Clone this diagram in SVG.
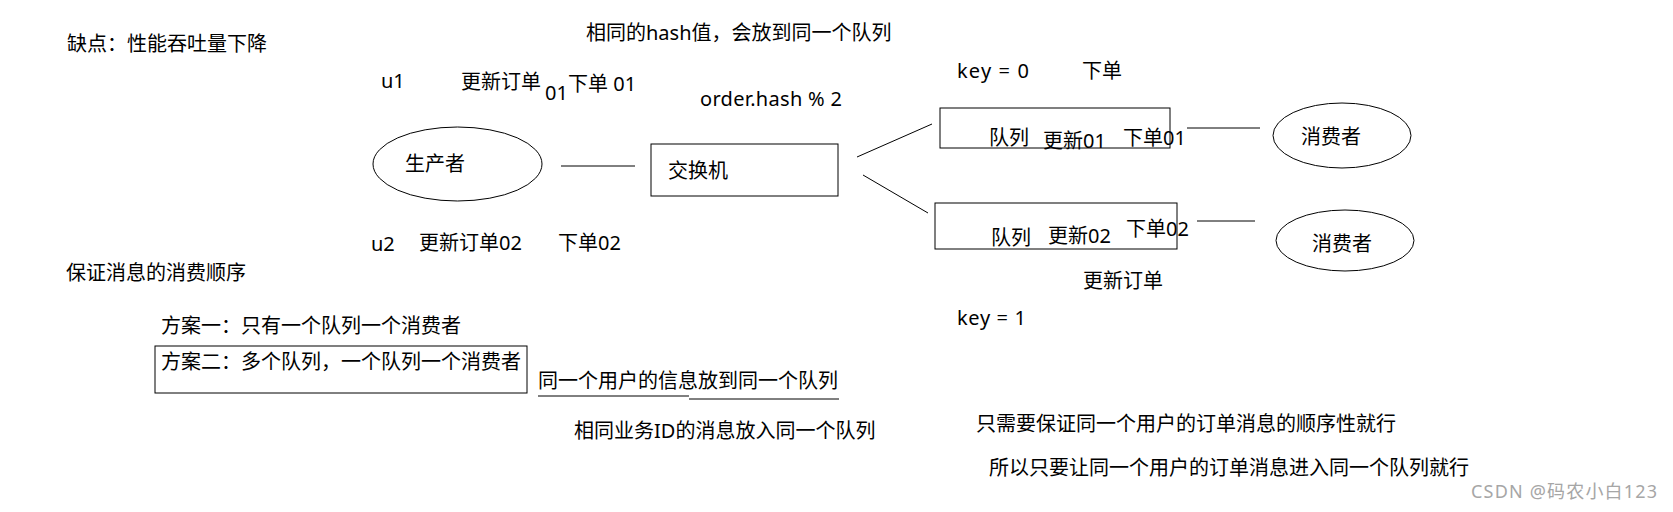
<svg xmlns="http://www.w3.org/2000/svg" width="1673" height="512" viewBox="0 0 1673 512">
<style>
text{font-family:"Noto Sans","Noto Sans CJK SC",sans-serif;font-size:20px;fill:#000}
.shape{fill:none;stroke:#000;stroke-width:1}
.conn{fill:none;stroke:#000;stroke-width:1}
.wm{fill:#a6a6a6;font-size:18px}
</style>
<rect x="0" y="0" width="1673" height="512" fill="#fff"/>
<g id="notes">
<text x="67" y="51">缺点：性能吞吐量下降</text>
<text x="586" y="40">相同的hash值，会放到同一个队列</text>
<text x="700" y="106" textLength="142" lengthAdjust="spacing">order.hash % 2</text>
<text x="66" y="280">保证消息的消费顺序</text>
<text x="161" y="333">方案一：只有一个队列一个消费者</text>
<text x="574" y="438">相同业务ID的消息放入同一个队列</text>
<text x="976" y="431">只需要保证同一个用户的订单消息的顺序性就行</text>
<text x="989" y="475">所以只要让同一个用户的订单消息进入同一个队列就行</text>
<text class="wm" x="1471" y="498" textLength="186" lengthAdjust="spacing">CSDN @码农小白123</text>
</g>
<g id="producer-labels">
<text x="381" y="88">u1</text>
<text x="461" y="89">更新订单</text>
<text x="545" y="100">01</text>
<text x="568" y="91">下单 01</text>
<text x="371" y="251">u2</text>
<text x="419" y="250">更新订单02</text>
<text x="558" y="250">下单02</text>
</g>
<g id="producer">
<ellipse class="shape" cx="457.5" cy="164" rx="84.5" ry="37"/>
<text x="405" y="171">生产者</text>
</g>
<g id="exchange">
<rect class="shape" x="651" y="144" width="187" height="52"/>
<text x="668" y="178">交换机</text>
</g>
<g id="queue1">
<text x="957" y="78" textLength="72" lengthAdjust="spacing">key = 0</text>
<text x="1082" y="78">下单</text>
<rect class="shape" x="940" y="108" width="230" height="40"/>
<text x="989" y="145">队列</text>
<text x="1043" y="148">更新01</text>
<text x="1123" y="145">下单01</text>
</g>
<g id="queue2">
<rect class="shape" x="935" y="203" width="242" height="46"/>
<text x="991" y="245">队列</text>
<text x="1048" y="243">更新02</text>
<text x="1126" y="236">下单02</text>
<text x="1083" y="288">更新订单</text>
<text x="957" y="325" textLength="69" lengthAdjust="spacing">key = 1</text>
</g>
<g id="consumer1">
<ellipse class="shape" cx="1342" cy="135.5" rx="69" ry="32.5"/>
<text x="1301" y="144">消费者</text>
</g>
<g id="consumer2">
<ellipse class="shape" cx="1345" cy="240.5" rx="69" ry="30.5"/>
<text x="1312" y="251">消费者</text>
</g>
<g id="plan2">
<rect class="shape" x="155" y="346" width="372" height="47"/>
<text x="161" y="369">方案二：多个队列，一个队列一个消费者</text>
</g>
<g id="same-user">
<text x="538" y="388">同一个用户的信息放到同一个队列</text>
<line class="conn" x1="538" y1="396" x2="689" y2="396"/>
<line class="conn" x1="689" y1="399" x2="839" y2="399"/>
</g>
<g id="connectors">
<line class="conn" x1="561" y1="166" x2="635" y2="166" stroke-width="2"/>
<line class="conn" x1="857" y1="157" x2="932" y2="124"/>
<line class="conn" x1="863" y1="175" x2="928" y2="213"/>
<line class="conn" x1="1187" y1="128" x2="1260" y2="128"/>
<line class="conn" x1="1197" y1="221" x2="1255" y2="221"/>
</g>
</svg>
